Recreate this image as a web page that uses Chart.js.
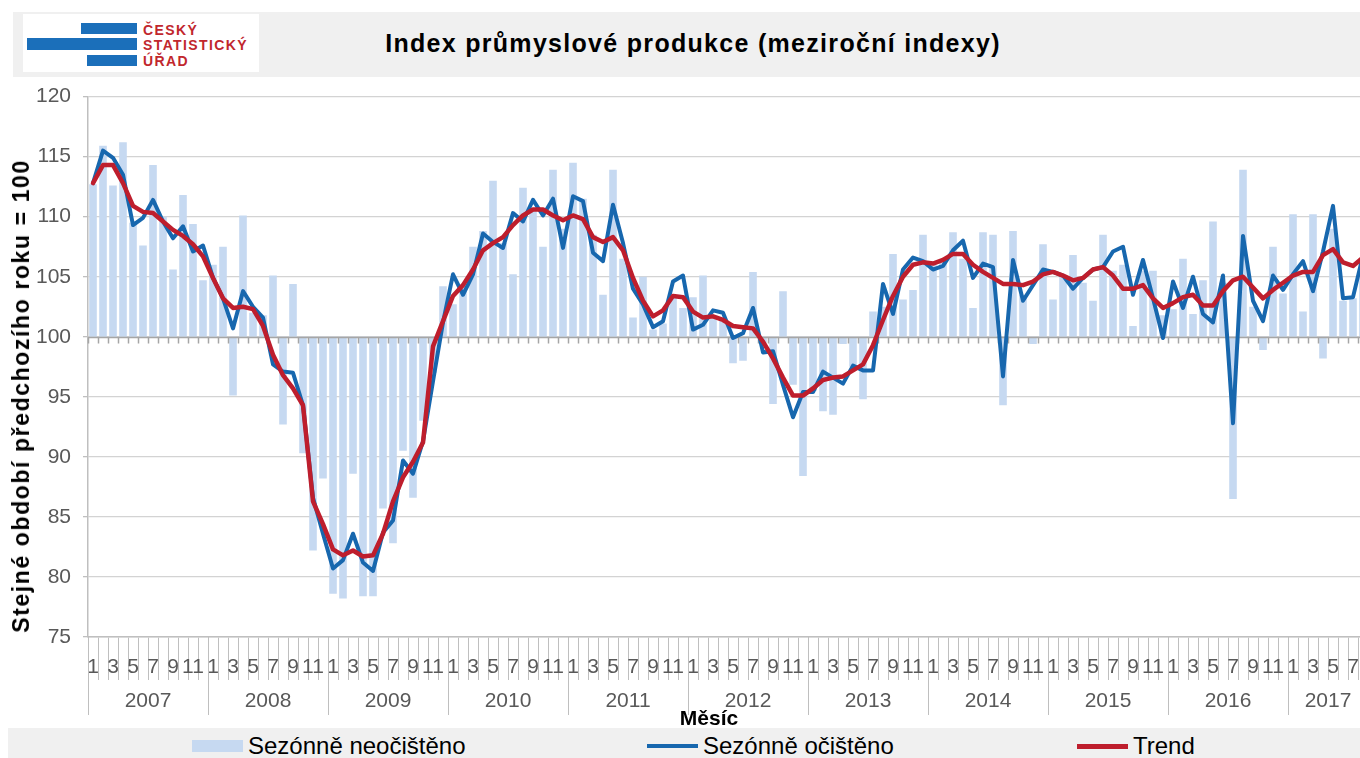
<!DOCTYPE html>
<html><head><meta charset="utf-8">
<script src="https://cdn.jsdelivr.net/npm/chart.js@4.4.1/dist/chart.umd.min.js"></script>
<style>
html,body{margin:0;padding:0;background:#fff;}
body{width:1360px;height:758px;overflow:hidden;position:relative;font-family:"Liberation Sans",Arial,sans-serif;}
#header{position:absolute;left:13px;top:12px;width:1347px;height:65px;background:#f0f0f0;}
#logo{position:absolute;left:23px;top:14px;width:236px;height:58px;background:#fff;}
.lb{position:absolute;background:#1b6fba;}
.lt{position:absolute;left:120px;color:#c1272d;font-weight:bold;font-size:14px;letter-spacing:1.4px;line-height:14px;white-space:nowrap;}
#title{position:absolute;left:0;width:1386px;top:31px;text-align:center;font-weight:bold;font-size:25px;line-height:25px;letter-spacing:1.3px;white-space:nowrap;color:#000;}
#chartbox{position:absolute;left:0;top:72px;width:1372px;height:658px;}
#ytitle{position:absolute;left:21px;top:396px;transform:translate(-50%,-50%) rotate(-90deg);font-weight:bold;font-size:23px;letter-spacing:1.6px;white-space:nowrap;color:#000;line-height:24px;}
#xtitle{position:absolute;left:709px;top:706px;transform:translateX(-50%);font-weight:bold;font-size:21px;line-height:24px;white-space:nowrap;color:#000;}
#legend{position:absolute;left:8px;top:728px;width:1352px;height:30px;background:#f0f0f0;}
.sw{position:absolute;}
.lg{position:absolute;top:3px;font-size:24px;line-height:30px;white-space:nowrap;color:#000;}
</style>
</head>
<body>
<div id="header"></div>
<div id="logo">
  <div class="lb" style="left:58px;top:9px;width:56px;height:11px;"></div>
  <div class="lb" style="left:4px;top:24px;width:110px;height:12px;"></div>
  <div class="lb" style="left:64px;top:41px;width:50px;height:11px;"></div>
  <div class="lt" style="top:9px;">ČESKÝ</div>
  <div class="lt" style="top:24px;">STATISTICKÝ</div>
  <div class="lt" style="top:40px;">ÚŘAD</div>
</div>
<div id="title">Index průmyslové produkce (meziroční indexy)</div>
<div id="chartbox"><canvas id="c" width="1372" height="658"></canvas></div>
<div id="ytitle">Stejné období předchozího roku = 100</div>
<div id="xtitle">Měsíc</div>
<div id="legend"></div>
<script>
// ---- data ----
const years = [2007,2008,2009,2010,2011,2012,2013,2014,2015,2016,2017];
const monthsInYear = [12,12,12,12,12,12,12,12,12,12,8];
const yTicks = [75,80,85,90,95,100,105,110,115,120];
const seriesNames = ['Sezónně neočištěno','Sezónně očištěno','Trend'];

const nsa = [
 112.7,115.9,112.6,116.2,109.5,107.6,114.3,110.0,105.6,111.8,109.4,104.7,
 106.0,107.5,95.1,110.1,102.0,101.8,105.1,92.7,104.4,90.3,82.2,88.2,
 78.6,78.2,88.6,78.4,78.4,85.7,82.8,90.5,86.6,93.0,97.0,104.2,
 102.7,104.3,107.5,108.8,113.0,107.8,105.2,112.4,110.5,107.5,113.9,109.0,
 114.5,111.5,108.5,103.5,113.9,106.5,101.6,105.0,100.6,101.1,103.5,102.4,
 103.3,105.1,101.5,101.5,97.8,98.0,105.4,99.5,94.4,103.8,96.0,88.4,
 95.5,93.8,93.5,99.4,97.5,94.8,102.1,102.5,106.9,103.1,103.9,108.5,
 106.0,106.3,108.7,106.5,102.4,108.7,108.5,94.3,108.8,103.5,99.4,107.7,
 103.1,105.0,106.8,104.5,103.0,108.5,105.5,106.0,100.9,105.5,105.5,101.8,
 102.3,106.5,101.9,104.7,109.6,104.5,86.5,113.9,102.5,98.9,107.5,103.6,
 110.2,102.1,110.2,98.2,109.0,103.0,103.2,106.0
];
const sa = [
 112.8,115.5,114.9,113.5,109.3,109.9,111.4,109.6,108.2,109.2,107.1,107.6,
 104.9,103.2,100.7,103.8,102.5,101.6,97.7,97.1,97.0,94.3,86.6,83.6,
 80.7,81.4,83.6,81.2,80.5,83.7,84.7,89.7,88.6,91.3,96.3,101.2,
 105.2,103.5,105.2,108.6,107.9,107.4,110.3,109.6,111.4,110.1,111.5,107.4,
 111.7,111.3,107.0,106.3,111.0,107.8,104.0,102.7,100.8,101.3,104.6,105.1,
 100.6,101.0,102.2,102.0,99.9,100.3,102.4,98.7,98.8,96.0,93.3,95.4,
 95.4,97.1,96.6,96.1,97.6,97.2,97.2,104.4,101.9,105.6,106.6,106.3,
 105.6,105.9,107.2,108.0,104.9,106.1,105.8,96.7,106.4,103.0,104.3,105.6,
 105.4,105.1,104.0,104.9,105.6,105.8,107.1,107.5,103.5,106.4,103.2,99.9,
 104.6,102.4,105.0,101.9,101.2,105.1,92.8,108.4,103.0,101.3,105.1,103.9,
 105.2,106.3,103.8,107.1,110.9,103.2,103.3,106.8
];
const trend = [
 112.8,114.3,114.3,112.8,110.9,110.4,110.3,109.6,108.9,108.4,107.7,106.7,
 104.9,103.2,102.4,102.5,102.3,100.9,98.5,96.8,95.7,94.3,86.3,84.4,
 82.3,81.8,82.2,81.7,81.8,83.6,86.3,88.3,89.6,91.2,99.2,101.3,
 103.4,104.3,105.6,107.2,107.8,108.3,109.3,110.1,110.6,110.6,110.1,109.7,
 110.1,109.8,108.3,107.9,108.3,107.2,104.9,103.0,101.7,102.2,103.4,103.3,
 102.1,101.6,101.7,101.4,100.9,100.8,100.7,99.6,98.2,96.6,95.1,95.1,
 95.7,96.4,96.6,96.7,97.2,97.7,99.3,101.4,103.4,105.0,106.0,106.2,
 106.1,106.4,106.9,106.9,106.0,105.4,104.9,104.4,104.4,104.3,104.6,105.2,
 105.4,105.1,104.7,104.9,105.6,105.8,105.1,104.0,104.0,104.3,103.2,102.4,
 102.8,103.3,103.5,102.6,102.6,103.8,104.7,105.0,104.1,103.2,103.9,104.5,
 105.1,105.4,105.4,106.8,107.3,106.2,105.9,106.6
];

// ---- categories ----
const labels = [];
const yearOf = [];
years.forEach((y, k) => {
  for (let m = 1; m <= monthsInYear[k]; m++) { labels.push(String(m)); yearOf.push(y); }
});

const FONT = '"Liberation Sans", Arial, sans-serif';
const colBar = '#c6d9f1', colSa = '#1767ae', colTr = '#be1e2d';

const axisPlugin = {
  id: 'axisPlugin',
  afterDatasetDraw(chart, args) {
    if (args.index !== 0) return;
    const {ctx, chartArea} = chart;
    const xs = chart.scales.x, ys = chart.scales.y;
    const y0 = Math.round(ys.getPixelForValue(100)) + 0.5;
    const step = xs.getPixelForValue(1) - xs.getPixelForValue(0);
    ctx.save();
    ctx.strokeStyle = '#a6a6a6';
    ctx.lineWidth = 1.5;
    ctx.beginPath();
    ctx.moveTo(chartArea.left, y0); ctx.lineTo(chartArea.right, y0);
    for (let i = 0; i <= labels.length; i++) {
      const x = Math.round(xs.getPixelForValue(0) - step / 2 + i * step) + 0.5;
      ctx.moveTo(x, y0); ctx.lineTo(x, y0 + 6);
    }
    ctx.stroke();
    ctx.restore();
  },
  afterDraw(chart) {
    const {ctx, chartArea} = chart;
    const xs = chart.scales.x;
    const step = xs.getPixelForValue(1) - xs.getPixelForValue(0);
    const top = chartArea.bottom, bot = chartArea.bottom + 78;
    ctx.save();
    ctx.strokeStyle = '#bfbfbf';
    ctx.lineWidth = 1;
    ctx.fillStyle = '#595959';
    ctx.font = '21px ' + FONT;
    ctx.textAlign = 'center';
    ctx.textBaseline = 'middle';
    let start = 0;
    for (let i = 0; i <= labels.length; i++) {
      if (i === labels.length || (i > 0 && yearOf[i] !== yearOf[i - 1]) || i === 0) {
        const xb = Math.round(xs.getPixelForValue(0) - step / 2 + i * step) + 0.5;
        ctx.beginPath(); ctx.moveTo(xb, top); ctx.lineTo(xb, bot); ctx.stroke();
        if (i > 0) {
          const xc = (xs.getPixelForValue(start) + xs.getPixelForValue(i - 1)) / 2;
          ctx.fillText(String(yearOf[i - 1]), xc, chartArea.bottom + 64);
        }
        start = i;
      }
    }
    ctx.restore();
  }
};

const chart = new Chart(document.getElementById('c'), {
  type: 'bar',
  data: {
    labels: labels,
    datasets: [
      {type: 'bar', label: seriesNames[0], data: nsa.map(v => [100, v]), backgroundColor: colBar,
       barPercentage: 0.76, categoryPercentage: 1.0, order: 3},
      {type: 'line', label: seriesNames[1], data: sa, borderColor: colSa, borderWidth: 4,
       pointRadius: 0, tension: 0, borderJoinStyle: 'round', borderCapStyle: 'round', order: 2},
      {type: 'line', label: seriesNames[2], data: trend, borderColor: colTr, borderWidth: 4.5,
       pointRadius: 0, tension: 0, borderJoinStyle: 'round', borderCapStyle: 'round', order: 1}
    ]
  },
  options: {
    responsive: false, animation: false, devicePixelRatio: 1,
    layout: {padding: {top: 0, right: 4, left: 0, bottom: 0}},
    plugins: {legend: {display: false}, tooltip: {enabled: false}},
    scales: {
      x: {
        offset: true,
        grid: {offset: true, drawOnChartArea: false, drawTicks: true, tickLength: 43, color: '#bfbfbf', lineWidth: 1},
        border: {display: true, color: '#bfbfbf', width: 1.5},
        ticks: {autoSkip: false, maxRotation: 0, minRotation: 0, padding: -25, color: '#595959',
                font: {size: 21, family: FONT},
                callback: (v, i) => (Number(labels[i]) % 2 === 1 ? labels[i] : '')},
        afterFit: (s) => { s.height = 93; }
      },
      y: {
        min: 75, max: 120,
        afterBuildTicks: (s) => { s.ticks = yTicks.map(v => ({value: v})); },
        ticks: {color: '#595959', padding: 12, font: {size: 21, family: FONT}},
        grid: {color: '#d3d3d3', lineWidth: 1.3, tickLength: 5, tickColor: '#bfbfbf'},
        border: {color: '#bfbfbf', width: 1.5},
        afterFit: (s) => { s.width = 88; }
      }
    }
  },
  plugins: [axisPlugin]
});

// ---- legend (HTML, from datasets) ----
const legend = document.getElementById('legend');
const legendPos = [[184, 240], [639, 695], [1069, 1125]];
chart.data.datasets.forEach((ds, k) => {
  const sw = document.createElement('div');
  sw.className = 'sw';
  sw.style.left = legendPos[k][0] + 'px';
  sw.style.width = '51px';
  if (ds.type === 'bar') {
    sw.style.top = '12px'; sw.style.height = '12px'; sw.style.background = ds.backgroundColor;
  } else {
    sw.style.top = '16px'; sw.style.height = ds.borderWidth + 'px'; sw.style.background = ds.borderColor;
  }
  legend.appendChild(sw);
  const t = document.createElement('div');
  t.className = 'lg';
  t.style.left = legendPos[k][1] + 'px';
  t.textContent = ds.label;
  legend.appendChild(t);
});
</script>
</body></html>
